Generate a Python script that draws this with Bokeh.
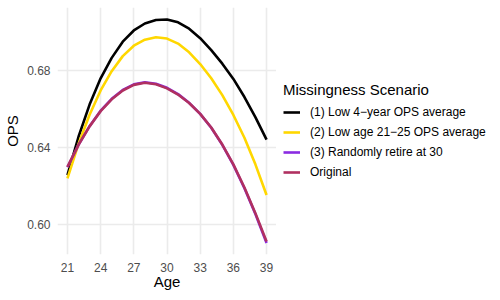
from bokeh.plotting import figure
from bokeh.layouts import row
from bokeh.models import Range1d, Legend, LegendItem, FixedTicker, PrintfTickFormatter
from bokeh.embed import file_html
from bokeh.resources import INLINE

ages = list(range(21, 40))
low_4yr = [0.6258, 0.6457, 0.6624, 0.6760, 0.6866, 0.6950, 0.7008, 0.7044, 0.7062, 0.7065,
           0.7050, 0.7017, 0.6968, 0.6906, 0.6836, 0.6757, 0.6663, 0.6558, 0.6442]
low_21_25 = [0.6241, 0.6420, 0.6571, 0.6697, 0.6797, 0.6875, 0.6929, 0.6960, 0.6973, 0.6966,
             0.6940, 0.6895, 0.6834, 0.6760, 0.6673, 0.6570, 0.6452, 0.6313, 0.6155]
retire_30 = [0.6299, 0.6415, 0.6512, 0.6592, 0.6654, 0.6700, 0.6729, 0.6740, 0.6732, 0.6711,
             0.6678, 0.6633, 0.6576, 0.6504, 0.6415, 0.6311, 0.6190, 0.6055, 0.5907]
original = [0.6301, 0.6415, 0.6511, 0.6590, 0.6651, 0.6697, 0.6726, 0.6737, 0.6729, 0.6708,
            0.6676, 0.6632, 0.6576, 0.6505, 0.6417, 0.6314, 0.6194, 0.6060, 0.5914]

series_labels = ["(1) Low 4\u2212year OPS average", "(2) Low age 21\u221225 OPS average",
                 "(3) Randomly retire at 30", "Original"]
series_colors = ["#000000", "#FFD700", "#8A2BE2", "#B03060"]
x_ticks = [21, 24, 27, 30, 33, 36, 39]
y_ticks = [0.60, 0.64, 0.68]

FONT = "Liberation Sans"
all_series = [low_4yr, low_21_25, retire_30, original]

# ---- main chart ----
p = figure(width=276, height=300, output_backend="svg", toolbar_location=None,
           x_range=Range1d(20.1, 39.9), y_range=Range1d(0.5847, 0.7127),
           min_border_left=57, min_border_right=0, min_border_top=7, min_border_bottom=46)
p.outline_line_color = None
p.background_fill_color = "white"

for ys, c in zip(all_series, series_colors):
    p.line(ages, ys, line_color=c, line_width=2.6, line_join="round")

p.xaxis.ticker = FixedTicker(ticks=x_ticks)
p.yaxis.ticker = FixedTicker(ticks=y_ticks)
p.yaxis.formatter = PrintfTickFormatter(format="%.2f")
for ax in (p.xaxis[0], p.yaxis[0]):
    ax.axis_line_color = None
    ax.major_tick_line_color = None
    ax.minor_tick_line_color = None
    ax.major_tick_in = 0
    ax.major_tick_out = 0
    ax.minor_tick_in = 0
    ax.minor_tick_out = 0
    ax.major_label_text_font = FONT
    ax.major_label_text_font_size = "12px"
    ax.major_label_text_color = "#4D4D4D"
    ax.axis_label_text_font = FONT
    ax.axis_label_text_font_size = "15px"
    ax.axis_label_text_font_style = "normal"
    ax.axis_label_text_color = "black"
p.xaxis.axis_label = "Age"
p.yaxis.axis_label = "OPS"
p.xaxis.major_label_standoff = 8
p.yaxis.major_label_standoff = 7
p.xaxis.axis_label_standoff = -2
p.yaxis.axis_label_standoff = 3

p.xgrid.ticker = FixedTicker(ticks=x_ticks)
p.ygrid.ticker = FixedTicker(ticks=y_ticks)
for g in (p.xgrid[0], p.ygrid[0]):
    g.grid_line_color = "#EBEBEB"
    g.grid_line_width = 1.6

# ---- legend panel (same series; its lines lie outside its visible range) ----
q = figure(width=224, height=300, output_backend="svg", toolbar_location=None,
           x_axis_location=None, y_axis_location=None,
           x_range=Range1d(100, 101), y_range=Range1d(0.5847, 0.7127),
           min_border_left=0, min_border_right=0, min_border_top=0, min_border_bottom=0)
q.outline_line_color = None
q.xgrid.visible = False
q.ygrid.visible = False
legend_renderers = [q.line(ages, ys, line_color=c, line_width=2.6)
                    for ys, c in zip(all_series, series_colors)]

items = [LegendItem(label=l, renderers=[r]) for l, r in zip(series_labels, legend_renderers)]
legend = Legend(items=items, location=(7, 72), title="Missingness Scenario",
                title_text_font=FONT, title_text_font_size="15px", title_text_font_style="normal",
                title_text_color="black", title_standoff=4,
                label_text_font=FONT, label_text_font_size="12px", label_text_color="black",
                glyph_width=17, glyph_height=20, label_height=20, spacing=0, label_standoff=10,
                padding=0, margin=0, border_line_alpha=0, background_fill_alpha=0)
q.add_layout(legend, "center")

layout = row(p, q, spacing=0)
open("out.html", "w").write(file_html(layout, INLINE))
